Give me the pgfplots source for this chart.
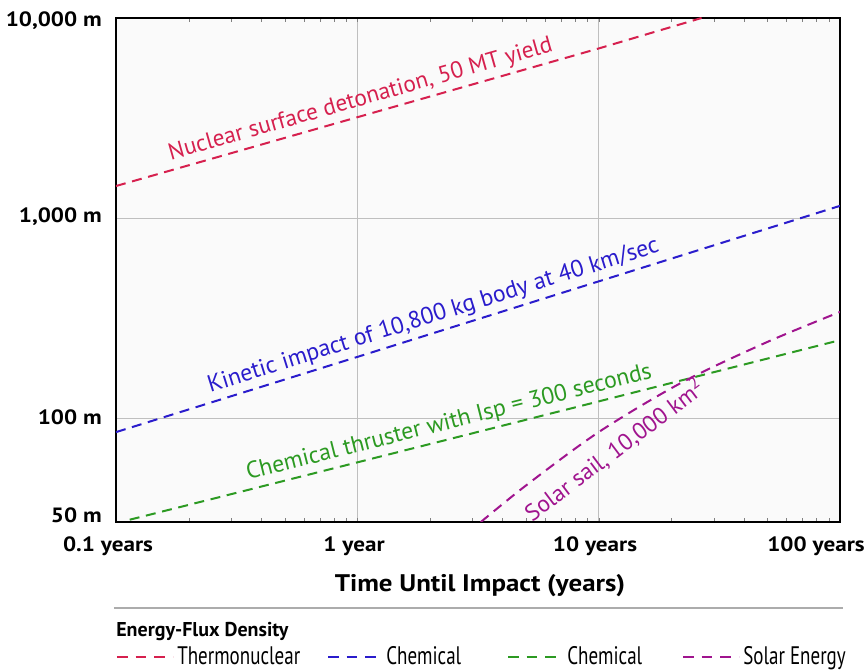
\documentclass[border=0pt]{standalone}
\usepackage{fontspec}
\setmainfont{PT Sans}
\newfontfamily\cond[FakeStretch=0.75]{PT Sans}
\newfontfamily\wide[FakeStretch=1.12]{PT Sans}
\usepackage{pgfplots}
\pgfplotsset{compat=1.18}
\definecolor{cred}{HTML}{D6204E}
\definecolor{cblue}{HTML}{2A1CCC}
\definecolor{cgreen}{HTML}{2C9A22}
\definecolor{cpurple}{HTML}{A0148E}
\tikzset{dl/.style={line width=1.5pt, dash pattern=on 7.5pt off 5pt}}
\begin{document}
\begin{tikzpicture}
\begin{axis}[
  name=ax, scale only axis, width=543pt, height=378pt,
  xmode=log, ymode=log,
  xmin=0.1, xmax=100, ymin=30.2, ymax=10000,
  xtick={0.1,1,10,100}, xticklabels={},
  minor xtick={}, minor ytick={},
  ytick={30.2,100,1000,10000}, yticklabels={},
  major tick length=0pt,
  grid=major, grid style={gray!50, line width=0.6pt},
  axis line style={line width=1.5pt, black},
  axis background/.style={fill=gray!4},
]
\coordinate (O) at (rel axis cs:0,0);
\addplot[cred, dl] coordinates {(0.1,1445) (1,3190) (10,7040) (26.7,10000)}
  node[pos=0.425, sloped, above, inner sep=3pt, font=\fontsize{17.5}{19}\selectfont] {Nuclear surface detonation, 50 MT yield};
\addplot[cblue, dl] coordinates {(0.1,85) (1,202) (10,482) (100,1150)}
  node[pos=0.445, sloped, above, inner sep=3pt, font=\fontsize{17.8}{19}\selectfont] {Kinetic impact of 10,800 kg body at 40 km/sec};
\addplot[cgreen, dl] coordinates {(0.114,31) (1,60) (10,121) (100,245)}
  node[pos=0.455, sloped, above, inner sep=3pt, font=\fontsize{17.8}{19}\selectfont] {Chemical thruster with Isp = 300 seconds};
\addplot[cpurple, dl, smooth] coordinates {(3.25,30.2) (5,46) (10,85) (22,150) (50,240) (100,339)};
\node[cpurple, rotate=37, anchor=north, inner sep=2pt, font=\fontsize{17.5}{19}\selectfont] at (axis cs:10.7,79) {Solar sail, 10,000 km\textsuperscript{2}};
\end{axis}
\begin{scope}[shift={(O)}, x=0.75pt, y=-0.75pt, shift={(-116,-522)}]
  \pgfresetboundingbox
  \path[use as bounding box] (0,0) rectangle (868,671);
  \begin{scope}[font=\fontsize{15.5}{17}\selectfont\wide\bfseries, inner sep=0pt]
    \node[anchor=base] at (108,552) {0.1 years};
    \node[anchor=base] at (354,552) {1 year};
    \node[anchor=base] at (595,552) {10 years};
    \node[anchor=base] at (816,552) {100 years};
    \node[anchor=base east] at (102,27) {10,000 m};
    \node[anchor=base east] at (102,223) {1,000 m};
    \node[anchor=base east] at (102,425) {100 m};
    \node[anchor=base east] at (102,523) {50 m};
  \end{scope}
  \node[anchor=base, inner sep=0pt, font=\fontsize{18}{20}\selectfont\wide\bfseries] at (480,592) {Time Until Impact (years)};
  \draw[gray!65, line width=1.2pt] (114,608) -- (843,608);
  \node[anchor=base west, inner sep=0pt, font=\fontsize{15}{16}\selectfont\bfseries] at (116,637) {Energy-Flux Density};
  \begin{scope}[font=\fontsize{19}{21}\selectfont\cond]
    \draw[cred, line width=1.8pt, dash pattern=on 8pt off 6pt] (117,657) -- (173,657);
    \node[anchor=base west, inner sep=0pt] at (177,665) {Thermonuclear};
    \draw[cblue, line width=1.8pt, dash pattern=on 8pt off 6pt] (328,657) -- (382,657);
    \node[anchor=base west, inner sep=0pt] at (386,665) {Chemical};
    \draw[cgreen, line width=1.8pt, dash pattern=on 8pt off 6pt] (508,657) -- (563,657);
    \node[anchor=base west, inner sep=0pt] at (567,665) {Chemical};
    \draw[cpurple, line width=1.8pt, dash pattern=on 8pt off 6pt] (683,657) -- (739,657);
    \node[anchor=base west, inner sep=0pt] at (743,665) {Solar Energy};
  \end{scope}
\end{scope}
\end{tikzpicture}
\end{document}
